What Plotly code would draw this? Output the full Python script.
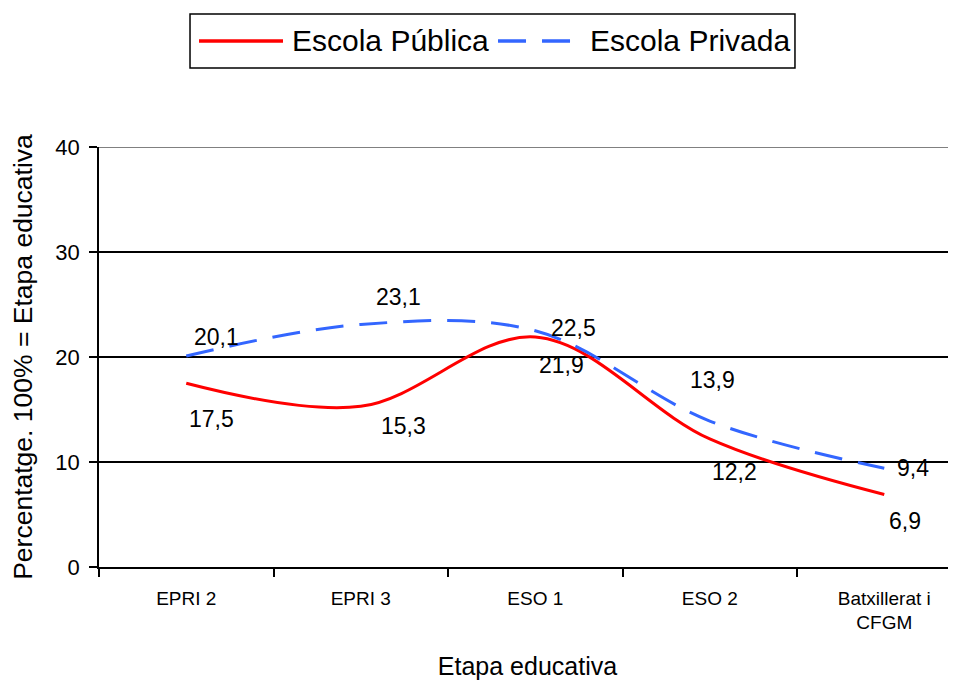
import plotly.graph_objects as go

categories = ["EPRI 2", "EPRI 3", "ESO 1", "ESO 2", "Batxillerat i<br>CFGM"]
publica = [17.5, 15.3, 21.9, 12.2, 6.9]
privada = [20.1, 23.1, 22.5, 13.9, 9.4]
y_ticks = [0, 10, 20, 30, 40]
series_names = ["Escola Pública", "Escola Privada"]

# label offsets in pixels (style only)
pub_shift = [(25, -36), (43, -20), (26, -28), (25, -33), (21, -26)]
priv_shift = [(30, 19), (38, 27), (38, 3), (3, 41), (29, 0)]

FONT = "Liberation Sans, Arial, sans-serif"
RED = "#FF0000"
BLUE = "#3366FF"
BLUE_DASH = "28px,16px"

fig = go.Figure()
fig.add_trace(go.Scatter(
    x=categories, y=publica, name=series_names[0], mode="lines", showlegend=False,
    line=dict(color=RED, width=3, shape="spline", smoothing=1.0),
))
fig.add_trace(go.Scatter(
    x=categories, y=privada, name=series_names[1], mode="lines", showlegend=False,
    line=dict(color=BLUE, width=3, shape="spline", smoothing=1.0, dash=BLUE_DASH),
))

def fmt(v):
    return f"{v:.1f}".replace(".", ",")

for vals, shifts in ((publica, pub_shift), (privada, priv_shift)):
    for c, v, (dx, dy) in zip(categories, vals, shifts):
        fig.add_annotation(x=c, y=v, text=fmt(v), showarrow=False,
                           xshift=dx, yshift=dy,
                           font=dict(family=FONT, size=23, color="black"))

# top border of plot area in gray
fig.add_shape(type="line", xref="paper", yref="y", x0=0, x1=1, y0=40, y1=40,
              line=dict(color="#808080", width=2))

# legend box (drawn in paper coordinates)
fig.add_shape(type="rect", xref="paper", yref="paper", x0=0.1062, x1=0.8121,
              y0=1.188, y1=1.3167, line=dict(color="black", width=1.5), fillcolor="white")
fig.add_shape(type="line", xref="paper", yref="paper", x0=0.1167, x1=0.2147,
              y0=1.2524, y1=1.2524, line=dict(color=RED, width=3.5))
fig.add_shape(type="line", xref="paper", yref="paper", x0=0.4656, x1=0.5508,
              y0=1.2524, y1=1.2524, line=dict(color=BLUE, width=3.5, dash=BLUE_DASH))
fig.add_annotation(xref="paper", yref="paper", x=0.2229, y=1.2524, xanchor="left",
                   yanchor="middle", text=series_names[0], showarrow=False,
                   font=dict(family=FONT, size=30, color="black"))
fig.add_annotation(xref="paper", yref="paper", x=0.5706, y=1.2524, xanchor="left",
                   yanchor="middle", text=series_names[1], showarrow=False,
                   font=dict(family=FONT, size=30, color="black"))

fig.update_layout(
    width=956, height=684,
    margin=dict(l=91, r=8, t=139, b=125, autoexpand=False),
    paper_bgcolor="white", plot_bgcolor="white",
    font=dict(family=FONT, color="black"),
    showlegend=False,
    xaxis=dict(
        type="category", range=[-0.5, 4.411], showgrid=False, automargin=False,
        showline=True, linecolor="black", linewidth=1.5,
        ticks="outside", tickson="boundaries", ticklen=8, tickcolor="black", tickwidth=1.5,
        ticklabelstandoff=13,
        tickfont=dict(size=19, family=FONT),
        title=dict(text="Etapa educativa", font=dict(size=25, family=FONT), standoff=25),
    ),
    yaxis=dict(
        range=[0, 40], tickvals=y_ticks, showgrid=True, gridcolor="black", gridwidth=1.5,
        showline=True, linecolor="black", linewidth=1.5, zeroline=False, automargin=False,
        ticks="outside", ticklen=8, tickcolor="black", tickwidth=1.5,
        ticklabelstandoff=5,
        tickfont=dict(size=22, family=FONT),
        title=dict(text="Percentatge. 100% = Etapa educativa", font=dict(size=26.5, family=FONT), standoff=16),
    ),
)

fig.write_html("out.html")
